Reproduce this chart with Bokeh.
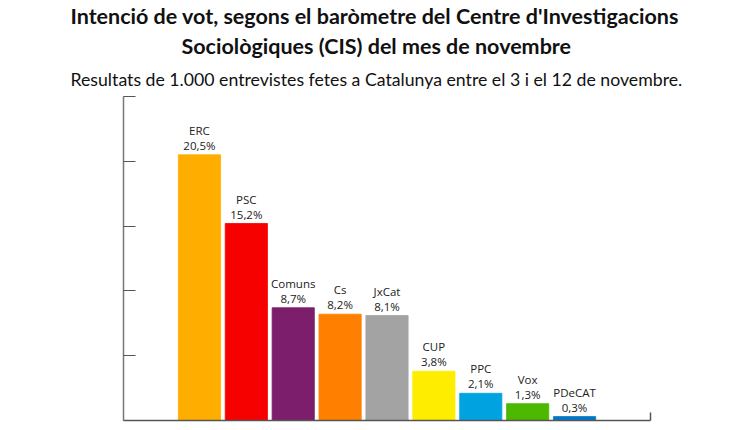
from bokeh.plotting import figure
from bokeh.models import (ColumnDataSource, LabelSet, Title, FixedTicker,
                          Range1d, LinearAxis)
from bokeh.core.properties import value
from bokeh.embed import file_html
from bokeh.resources import INLINE

parties = ["ERC", "PSC", "Comuns", "Cs", "JxCat", "CUP", "PPC", "Vox", "PDeCAT"]
vote = [20.5, 15.2, 8.7, 8.2, 8.1, 3.8, 2.1, 1.3, 0.3]
colors = ["#FFAE00", "#F70000", "#7D1E6C", "#FF8000", "#A3A3A3",
          "#FFED00", "#00A3E0", "#4DB800", "#0078C8"]
y_ticks = [0, 5, 10, 15, 20, 25]

title_1 = "Intenció de vot, segons el baròmetre del Centre d'Investigacions"
title_2 = "Sociològiques (CIS) del mes de novembre"
subtitle = "Resultats de 1.000 entrevistes fetes a Catalunya entre el 3 i el 12 de novembre."

source = ColumnDataSource(data=dict(
    x=list(range(len(parties))),
    vote=vote,
    color=colors,
    party=parties,
    pct=[f"{v:.1f}".replace(".", ",") + "%" for v in vote],
))

p = figure(
    width=750,
    height=430,
    x_range=Range1d(-1.62, 9.62),
    y_range=Range1d(0, 25),
    toolbar_location=None,
    tools="",
    output_backend="svg",
    min_border_left=123,
    min_border_right=100,
    min_border_top=95,
    min_border_bottom=10,
)

p.vbar(x="x", top="vote", width=0.9, source=source,
       fill_color="color", line_color="color", line_alpha=0.8)

label_style = dict(source=source, text_align="center", text_baseline="bottom",
                   text_font=value("Open Sans"), text_font_size="11.5px",
                   text_color="#222222")
p.add_layout(LabelSet(x="x", y="vote", text="pct", y_offset=2, **label_style))
p.add_layout(LabelSet(x="x", y="vote", text="party", y_offset=17, **label_style))

# titles, first added sits closest to the plot; left aligned with offsets
# so that they are centred on the page rather than on the plot frame
p.add_layout(Title(text=subtitle, align="left", offset=-53,
                   text_font="Lato", text_font_size="17.7px",
                   text_font_style="normal", text_color="#111111",
                   standoff=13), "above")
p.add_layout(Title(text=title_2, align="left", offset=58,
                   text_font="Lato", text_font_size="21.5px",
                   text_font_style="bold", text_color="#111111",
                   standoff=3), "above")
p.add_layout(Title(text=title_1, align="left", offset=-53,
                   text_font="Lato", text_font_size="21.5px",
                   text_font_style="bold", text_color="#111111",
                   standoff=1, text_line_height=0.8), "above")

# y axis: ticks inside, no labels
p.yaxis.ticker = FixedTicker(ticks=y_ticks)
p.yaxis.major_label_overrides = {t: "" for t in y_ticks}
p.yaxis.major_tick_in = 12
p.yaxis.major_tick_out = 0
p.yaxis.minor_tick_line_color = None
p.yaxis.major_label_standoff = 0
p.yaxis.axis_line_color = "#777777"
p.yaxis.major_tick_line_color = "#555555"
p.yaxis.axis_line_width = 1.5

# x axis: plain base line
p.xaxis.ticker = FixedTicker(ticks=[])
p.xaxis.major_tick_in = 0
p.xaxis.major_tick_out = 0
p.xaxis.minor_tick_line_color = None
p.xaxis.major_label_standoff = 0
p.xaxis.axis_line_color = "#555555"
p.xaxis.axis_line_width = 1.5

# short upright stroke closing the base line on the right
end_tick = LinearAxis(ticker=FixedTicker(ticks=[]), bounds=(0, 0.62),
                      axis_line_color="#555555", axis_line_width=1.5,
                      major_tick_line_color=None, minor_tick_line_color=None,
                      major_tick_out=0, major_label_standoff=0)
p.add_layout(end_tick, "right")

p.grid.grid_line_color = None
p.outline_line_color = None

open("out.html", "w").write(file_html(p, INLINE))
